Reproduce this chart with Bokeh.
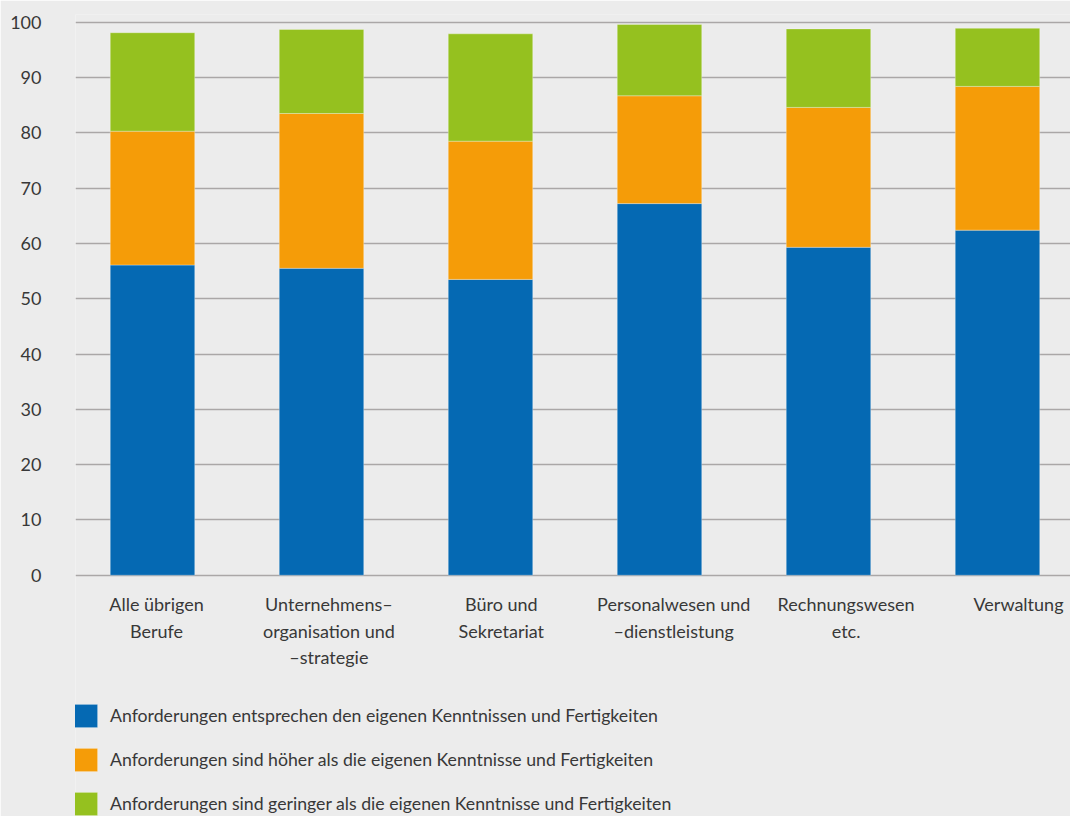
from bokeh.plotting import figure
from bokeh.models import ColumnDataSource, FixedTicker, Legend, LegendItem, Range1d
from bokeh.core.properties import value
from bokeh.embed import file_html
from bokeh.resources import INLINE

# ---------------- data ----------------
categories = [
    "Alle übrigen\nBerufe",
    "Unternehmens–\norganisation und\n–strategie",
    "Büro und\nSekretariat",
    "Personalwesen und\n–dienstleistung",
    "Rechnungswesen\netc.",
    "Verwaltung",
]
series_labels = [
    "Anforderungen entsprechen den eigenen Kenntnissen und Fertigkeiten",
    "Anforderungen sind höher als die eigenen Kenntnisse und Fertigkeiten",
    "Anforderungen sind geringer als die eigenen Kenntnisse und Fertigkeiten",
]
entsprechen = [56.1, 55.5, 53.5, 67.2, 59.3, 62.4]
hoeher = [24.2, 28.0, 25.0, 19.5, 25.3, 26.0]
geringer = [17.8, 15.2, 19.4, 12.9, 14.2, 10.5]
y_ticks = [0, 10, 20, 30, 40, 50, 60, 70, 80, 90, 100]

# ---------------- style ----------------
BG = "#ececec"
COLORS = ["#0569b3", "#f59c08", "#95c11f"]
TEXT = "#383838"
FONT = "Lato"

xs = list(range(len(categories)))
source = ColumnDataSource(dict(x=xs, s1=entsprechen, s2=hoeher, s3=geringer))

# frame spans the whole height; value 0 sits at ~575px, 100 at ~22px
p = figure(
    width=1070, height=816,
    output_backend="svg", toolbar_location=None,
    x_range=Range1d(-0.4556, 5.432), y_range=Range1d(-43.63, 101.4),
    min_border_left=75, min_border_right=0, min_border_top=14, min_border_bottom=0,
    background_fill_color=BG, border_fill_color=BG,
)
p.outline_line_color = None

renderers = p.vbar_stack(
    ["s1", "s2", "s3"], x="x", width=0.5, source=source,
    color=COLORS, line_color="white", line_alpha=0.3, line_width=1,
)

# grid
p.xgrid.visible = False
p.ygrid.ticker = FixedTicker(ticks=y_ticks)
p.ygrid.grid_line_color = "#aaa7a7"
p.ygrid.grid_line_width = 1.6

# y axis
p.yaxis.ticker = FixedTicker(ticks=y_ticks)
p.yaxis.axis_line_color = None
p.yaxis.major_tick_line_color = None
p.yaxis.minor_tick_line_color = None
p.yaxis.major_tick_in = 0
p.yaxis.major_tick_out = 0
p.yaxis.major_label_standoff = 34
p.yaxis.major_label_text_font = FONT
p.yaxis.major_label_text_font_size = "18px"
p.yaxis.major_label_text_color = TEXT

# x axis hidden; category labels drawn as text below the zero line
p.xaxis.visible = False
label_pos = [i + (4 + 3.4 * i) / 169.0 for i in xs]
label_src = ColumnDataSource(dict(x=label_pos, y=[0] * len(xs), text=categories))
p.text(
    x="x", y="y", text="text", source=label_src,
    x_offset=0, y_offset=18,
    text_align="center", text_baseline="top",
    text_font=value(FONT), text_font_size="18px", text_color=TEXT,
    text_line_height=1.2,
)

legend = Legend(
    items=[LegendItem(label=lab, renderers=[r]) for lab, r in zip(series_labels, renderers)],
    location=(-4, -2), orientation="vertical",
    background_fill_alpha=0, border_line_alpha=0,
    glyph_width=29, glyph_height=29, label_height=29,
    label_standoff=10, spacing=15, padding=0, margin=0,
    label_text_font=FONT, label_text_font_size="17.7px", label_text_color=TEXT,
)
p.add_layout(legend, "center")

open("out.html", "w").write(file_html(p, INLINE))
